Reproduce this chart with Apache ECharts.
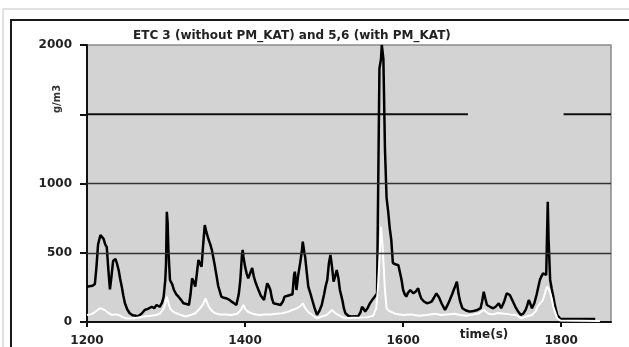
<!DOCTYPE html>
<html lang="en">
<head>
<meta charset="UTF-8">
<title>ETC 3 and 5,6</title>
<style>
  html, body { margin: 0; padding: 0; background: #fff; }
  #chart { width: 629px; height: 347px; }
</style>
</head>
<body>
<div id="chart"></div>
<script src="https://cdn.jsdelivr.net/npm/echarts@6.0.0/dist/echarts.min.js"></script>
<script>
// ETC 3 (without PM_KAT) - black line
var etc3Time = [1200,1203,1207,1210,1212,1214,1217,1219,1221,1223,1225,1227,1229,1231,1233,1236,1238,1240,1242,1244,1246,1248,1251,1254,1258,1262,1265,1269,1273,1277,1282,1285,1288,1292,1295,1297,1299,1300,1301,1302,1303,1305,1308,1310,1313,1316,1319,1322,1326,1329,1331,1333,1335,1337,1339,1341,1343,1345,1347,1349,1351,1354,1356,1358,1361,1364,1366,1370,1373,1377,1380,1383,1386,1389,1392,1394,1396,1397,1398,1400,1402,1404,1407,1409,1411,1413,1415,1417,1420,1424,1426,1428,1430,1432,1434,1436,1440,1445,1448,1450,1454,1457,1460,1462,1463,1464,1465,1467,1470,1472,1473,1475,1476,1478,1480,1483,1485,1488,1491,1494,1497,1500,1502,1504,1506,1508,1510,1512,1514,1516,1518,1520,1523,1525,1527,1529,1531,1535,1539,1543,1546,1548,1550,1552,1555,1558,1561,1564,1567,1569,1570,1572,1573,1575,1577,1579,1581,1583,1585,1587,1589,1591,1594,1596,1598,1600,1602,1604,1606,1609,1611,1613,1616,1619,1621,1623,1626,1630,1633,1636,1639,1642,1644,1646,1649,1653,1656,1659,1662,1664,1666,1668,1670,1672,1675,1679,1684,1689,1694,1698,1700,1702,1704,1706,1710,1714,1717,1721,1724,1728,1731,1733,1735,1738,1742,1745,1749,1752,1755,1757,1759,1761,1763,1766,1769,1773,1775,1777,1779,1781,1782,1783,1784,1786,1788,1790,1792,1795,1799,1843];
var etc3Val = [255,258,262,275,400,560,628,615,600,560,540,380,235,330,440,455,420,375,310,255,190,135,90,63,48,45,43,60,87,95,110,100,123,110,140,183,300,420,796,720,520,303,270,231,200,181,160,135,130,123,200,315,290,255,350,448,420,400,560,700,650,592,560,520,430,330,260,183,175,170,160,147,135,123,200,303,480,520,470,400,350,315,360,390,330,291,260,231,190,159,220,279,260,231,170,135,130,123,150,183,190,195,200,340,363,300,231,330,436,520,580,500,472,360,255,200,159,100,51,80,123,200,260,303,420,484,400,291,330,375,320,231,160,100,63,50,43,40,42,40,70,110,95,75,100,135,160,183,205,215,1830,1900,2000,1900,1250,900,800,680,592,426,440,415,410,400,303,231,200,183,210,231,220,207,220,243,200,170,150,135,140,147,175,207,190,170,130,87,120,159,200,231,260,291,207,150,99,85,75,80,87,100,150,219,170,123,110,99,110,135,99,150,207,200,195,159,110,80,51,60,87,120,159,130,99,135,200,303,330,351,345,340,600,868,600,303,240,183,120,51,22,22];

// 5,6 (with PM_KAT) - white line
var etc56Time = [1200,1205,1210,1213,1216,1219,1222,1226,1231,1236,1240,1245,1249,1254,1259,1265,1273,1280,1288,1293,1297,1299,1301,1303,1305,1309,1313,1319,1325,1331,1337,1340,1343,1347,1350,1352,1354,1358,1362,1368,1375,1383,1390,1395,1398,1400,1404,1410,1417,1425,1432,1440,1447,1455,1460,1466,1470,1473,1476,1480,1485,1491,1497,1503,1507,1510,1514,1518,1523,1527,1535,1545,1555,1562,1566,1568,1570,1572,1574,1577,1579,1582,1585,1590,1600,1610,1620,1630,1640,1648,1656,1665,1672,1680,1690,1696,1702,1708,1714,1720,1728,1735,1742,1749,1756,1763,1768,1770,1774,1777,1780,1782,1785,1788,1790,1793,1795,1799,1849];
var etc56Val = [50,55,72,85,99,95,87,70,51,55,51,35,27,25,27,32,40,45,51,65,99,130,183,140,99,75,63,50,40,50,63,80,99,130,171,140,110,80,63,55,55,50,60,90,123,95,72,60,51,55,55,60,63,75,87,100,115,135,100,72,50,27,40,51,70,87,65,51,35,27,30,32,35,45,100,231,450,688,544,231,99,80,72,60,50,55,45,50,60,50,55,60,50,45,55,63,87,60,55,65,60,55,51,27,40,51,80,110,140,159,220,255,231,170,110,60,27,10,8];

// limit line at 1500 with a gap
var limitTime = [1200, 1682, null, 1803, 1863];
var limitVal = 1500;

var yTicks = [0, 500, 1000, 2000];
var xTicks = [1200, 1400, 1600, 1800];

function pairs(xs, ys) {
  return xs.map(function (x, i) { return [x, ys[i]]; });
}

var limitData = limitTime.map(function (t) { return t === null ? [null, null] : [t, limitVal]; });

var chart = echarts.init(document.getElementById('chart'));
var font = 'DejaVu Sans';

chart.setOption({
  animation: false,
  backgroundColor: '#fff',
  textStyle: { fontFamily: font },
  title: {
    text: 'ETC 3 (without PM_KAT) and 5,6 (with PM_KAT)',
    left: 128,
    top: 25,
    textStyle: { fontSize: 12, fontWeight: 'bold', color: '#222', fontFamily: font }
  },
  grid: {
    left: 87, right: 18, top: 45, bottom: 25,
    show: true,
    backgroundColor: '#d3d3d3',
    borderColor: '#8a8a8a',
    borderWidth: 1.5
  },
  xAxis: {
    type: 'value',
    min: 1200,
    max: 1863,
    interval: 200,
    splitLine: { show: false },
    axisLine: { onZero: false, lineStyle: { color: '#111', width: 2 } },
    axisTick: { length: 5, customValues: xTicks, lineStyle: { color: '#111', width: 2 } },
    axisLabel: {
      customValues: xTicks,
      formatter: function (v) { return String(v); },
      margin: 13,
      fontSize: 12,
      fontWeight: 'bold',
      color: '#222',
      fontFamily: font
    }
  },
  yAxis: {
    type: 'value',
    min: 0,
    max: 2000,
    interval: 500,
    splitLine: { show: false },
    axisLine: { show: true, lineStyle: { color: '#111', width: 2 } },
    axisTick: { show: true, length: 7, lineStyle: { color: '#111', width: 2 } },
    axisLabel: {
      customValues: yTicks,
      formatter: function (v) { return String(v); },
      margin: 15,
      fontSize: 12,
      fontWeight: 'bold',
      color: '#222',
      fontFamily: font
    }
  },
  graphic: [
    { type: 'rect', z: -10, shape: { x: 3, y: 9, width: 700, height: 400 }, style: { fill: 'none', stroke: '#c4c4c4', lineWidth: 1 } },
    { type: 'rect', z: -10, shape: { x: 11, y: 20, width: 700, height: 400 }, style: { fill: 'none', stroke: '#1a1a1a', lineWidth: 2 } },
    { type: 'text', x: 57, y: 99, rotation: Math.PI / 2, style: { text: 'g/m3', fontSize: 10, fontWeight: 'bold', fill: '#333', fontFamily: font, align: 'center', verticalAlign: 'middle' } },
    { type: 'text', x: 484, y: 335, style: { text: 'time(s)', fontSize: 12, fontWeight: 'bold', fill: '#222', fontFamily: font, align: 'center', verticalAlign: 'middle' } }
  ],
  series: [
    {
      name: 'limit',
      type: 'line',
      data: limitData,
      connectNulls: false,
      symbol: 'none',
      silent: true,
      lineStyle: { color: '#111', width: 2 },
      markLine: {
        silent: true,
        symbol: 'none',
        label: { show: false },
        lineStyle: { color: '#333', width: 1.3, type: 'solid' },
        data: [{ yAxis: 500 }, { yAxis: 1000 }]
      }
    },
    {
      name: 'ETC 3',
      type: 'line',
      data: pairs(etc3Time, etc3Val),
      symbol: 'none',
      lineStyle: { color: '#000', width: 2.5 }
    },
    {
      name: '5,6',
      type: 'line',
      data: pairs(etc56Time, etc56Val),
      symbol: 'none',
      lineStyle: { color: '#fff', width: 2 }
    }
  ]
});
</script>
</body>
</html>
